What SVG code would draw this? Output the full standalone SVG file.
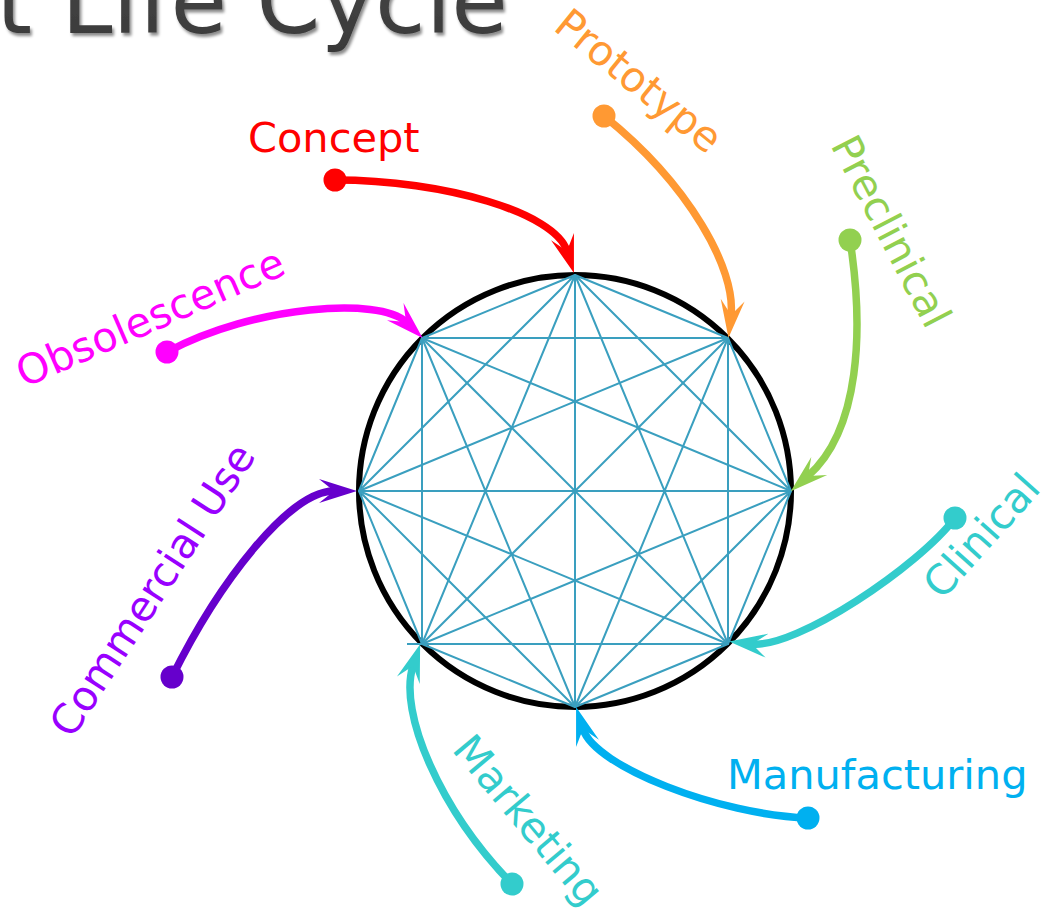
<svg xmlns="http://www.w3.org/2000/svg" width="1046" height="908" viewBox="0 0 1046 908">
  <style>
    .lbl { font-family: "DejaVu Sans", "Liberation Sans", sans-serif; font-size: 41.5px; }
    .mesh { fill: none; stroke: #3a9fbf; stroke-width: 2; stroke-linejoin: round; }
    .flow { fill: none; stroke-width: 7.5; stroke-linecap: round; }
  </style>
  <defs>
    <filter id="titleShadow" x="-5%" y="-20%" width="110%" height="150%">
      <feDropShadow dx="2" dy="3" stdDeviation="1.5" flood-color="#000" flood-opacity="0.45"/>
    </filter>
    <linearGradient id="titleFill" x1="0" y1="0" x2="0" y2="1">
      <stop offset="0" stop-color="#4a4a4a"/>
      <stop offset="1" stop-color="#383838"/>
    </linearGradient>
    <marker id="ah-red" viewBox="0 0 38 26" markerWidth="38" markerHeight="26" refX="15" refY="13" orient="auto" markerUnits="userSpaceOnUse"><path d="M0,1 L38,13 L0,25 L15,13 Z" fill="#ff0000"/></marker>
    <marker id="ah-orange" viewBox="0 0 38 26" markerWidth="38" markerHeight="26" refX="15" refY="13" orient="auto" markerUnits="userSpaceOnUse"><path d="M0,1 L38,13 L0,25 L15,13 Z" fill="#ff9933"/></marker>
    <marker id="ah-green" viewBox="0 0 38 26" markerWidth="38" markerHeight="26" refX="15" refY="13" orient="auto" markerUnits="userSpaceOnUse"><path d="M0,1 L38,13 L0,25 L15,13 Z" fill="#92d050"/></marker>
    <marker id="ah-teal" viewBox="0 0 38 26" markerWidth="38" markerHeight="26" refX="15" refY="13" orient="auto" markerUnits="userSpaceOnUse"><path d="M0,1 L38,13 L0,25 L15,13 Z" fill="#33cccc"/></marker>
    <marker id="ah-blue" viewBox="0 0 38 26" markerWidth="38" markerHeight="26" refX="15" refY="13" orient="auto" markerUnits="userSpaceOnUse"><path d="M0,1 L38,13 L0,25 L15,13 Z" fill="#00b0f0"/></marker>
    <marker id="ah-purple" viewBox="0 0 38 26" markerWidth="38" markerHeight="26" refX="15" refY="13" orient="auto" markerUnits="userSpaceOnUse"><path d="M0,1 L38,13 L0,25 L15,13 Z" fill="#6600cc"/></marker>
    <marker id="ah-magenta" viewBox="0 0 38 26" markerWidth="38" markerHeight="26" refX="15" refY="13" orient="auto" markerUnits="userSpaceOnUse"><path d="M0,1 L38,13 L0,25 L15,13 Z" fill="#ff00ff"/></marker>
  </defs>

  <rect width="1046" height="908" fill="#ffffff"/>

  <!-- title, running off the top-left edge -->
  <text x="-4" y="33" font-family="DejaVu Sans, Liberation Sans, sans-serif" font-size="92" fill="url(#titleFill)" filter="url(#titleShadow)">t Life Cycle</text>

  <!-- central wheel: circle with complete graph on 8 points -->
  <g id="wheel">
    <circle cx="575" cy="491" r="216" fill="none" stroke="#000" stroke-width="6"/>
    <!-- outer octagon -->
    <polygon class="mesh" points="575,275 728,338 791,491 728,644 575,707 422,644 359,491 422,338"/>
    <!-- two squares -->
    <polygon class="mesh" points="575,275 791,491 575,707 359,491"/>
    <polygon class="mesh" points="728,338 728,644 422,644 422,338"/>
    <line class="mesh" x1="407" y1="644" x2="422" y2="644"/>
    <!-- eight-point star -->
    <polygon class="mesh" points="575,275 728,644 359,491 728,338 575,707 422,338 791,491 422,644"/>
    <!-- diameters -->
    <line class="mesh" x1="575" y1="275" x2="575" y2="707"/>
    <line class="mesh" x1="359" y1="491" x2="791" y2="491"/>
    <line class="mesh" x1="422" y1="338" x2="728" y2="644"/>
    <line class="mesh" x1="728" y1="338" x2="422" y2="644"/>
  </g>

  <!-- stage connectors -->
  <g id="connectors">
    <path class="flow" stroke="#ff0000" marker-end="url(#ah-red)" d="M335,180 C445,180 555,213 567,251"/>
    <path class="flow" stroke="#ff9933" marker-end="url(#ah-orange)" d="M604,116 C690,185 736,270 731,315"/>
    <path class="flow" stroke="#92d050" marker-end="url(#ah-green)" d="M850,240 C864,330 860,430 808,476"/>
    <path class="flow" stroke="#33cccc" marker-end="url(#ah-teal)" d="M955,518 C919,566 796,649 752,644"/>
    <path class="flow" stroke="#00b0f0" marker-end="url(#ah-blue)" d="M808,818 C720,815 595,767 583,729"/>
    <path class="flow" stroke="#33cccc" marker-end="url(#ah-teal)" d="M512,884 C440,810 398,712 413,666"/>
    <path class="flow" stroke="#6600cc" marker-end="url(#ah-purple)" d="M172,677 C220,580 290,491 334,491"/>
    <path class="flow" stroke="#ff00ff" marker-end="url(#ah-magenta)" d="M167,352 C255,305 380,297 406,322"/>
  </g>

  <!-- stages -->
  <g id="concept">
    <circle cx="335" cy="180" r="11.5" fill="#ff0000"/>
    <text class="lbl" x="248" y="152" fill="#ff0000">Concept</text>
  </g>
  <g id="prototype">
    <circle cx="604" cy="116" r="11.5" fill="#ff9933"/>
    <text class="lbl" transform="translate(552,29) rotate(39)" fill="#ff9933">Prototype</text>
  </g>
  <g id="preclinical">
    <circle cx="850" cy="240" r="11.5" fill="#92d050"/>
    <text class="lbl" transform="translate(830,145) rotate(62.5)" fill="#92d050">Preclinical</text>
  </g>
  <g id="clinical">
    <circle cx="955" cy="518" r="11.5" fill="#33cccc"/>
    <text class="lbl" transform="translate(942,601) rotate(-48)" fill="#33cccc">Clinical</text>
  </g>
  <g id="manufacturing">
    <circle cx="808" cy="818" r="11.5" fill="#00b0f0"/>
    <text class="lbl" x="727" y="789" fill="#00b0f0">Manufacturing</text>
  </g>
  <g id="marketing">
    <circle cx="512" cy="884" r="11.5" fill="#33cccc"/>
    <text class="lbl" transform="translate(451,750) rotate(50)" fill="#33cccc">Marketing</text>
  </g>
  <g id="commercial-use">
    <circle cx="172" cy="677" r="11.5" fill="#6600cc"/>
    <text class="lbl" transform="translate(72,740) rotate(-57)" fill="#9900ff">Commercial Use</text>
  </g>
  <g id="obsolescence">
    <circle cx="167" cy="352" r="11.5" fill="#ff00ff"/>
    <text class="lbl" transform="translate(24,388) rotate(-23.5)" fill="#ff00ff">Obsolescence</text>
  </g>
</svg>
